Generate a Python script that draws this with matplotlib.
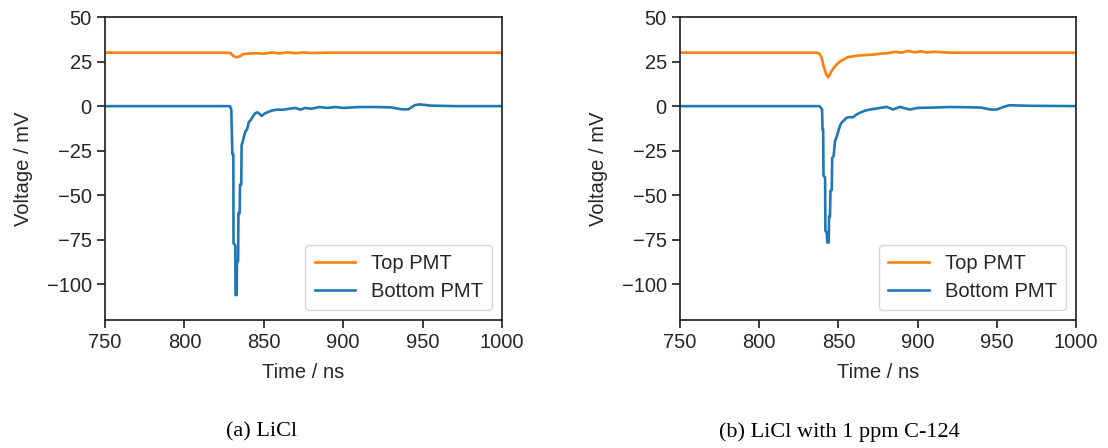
import matplotlib
matplotlib.use("Agg")
import matplotlib.pyplot as plt

plt.rcParams['font.family'] = ['Liberation Sans', 'DejaVu Sans']

# (a) LiCl
t_top_a = [750, 826, 829, 831, 833, 835, 837, 840, 845, 850, 855, 860, 865, 870,
           875, 880, 890, 900, 950, 1000]
v_top_a = [30, 30, 29.8, 28, 27.4, 28, 29.2, 29.5, 29.7, 29.4, 30.1, 29.6, 30.2,
           29.7, 30.1, 29.8, 30, 30, 30, 30]
t_bot_a = [750, 828.7, 829.5, 830.2, 830.8, 830.9, 832.0, 832.2, 832.9, 833.1,
           833.8, 834.0, 834.8, 835.0, 835.8, 836.0, 837.0, 837.5, 838.5, 839.5,
           840.5, 841.5, 843, 844.5, 846, 847.5, 848.7, 850, 852, 855, 858, 862,
           866, 870, 873, 876, 880, 885, 890, 895, 900, 910, 920, 930, 937, 941,
           945, 948, 955, 970, 1000]
v_bot_a = [0, 0, -2, -27, -27, -77, -78, -106, -106, -87, -87, -60, -60, -44, -44,
           -22, -19, -17, -14, -13, -9, -8, -6, -4, -3.5, -4.5, -5.5, -4.5, -3.5,
           -2.5, -2, -2, -1.5, -1, -2, -1, -1.5, -0.5, -1, -0.5, -1, -0.5, -0.5,
           -0.7, -1.8, -1.8, 0.5, 1, 0.3, 0, 0]

# (b) LiCl with 1 ppm C-124
t_top_b = [750, 836, 838, 839.5, 840.5, 841.5, 842.5, 843.5, 844.5, 845.5, 847,
           849, 851, 853.5, 856, 858.5, 861.5, 866, 872, 877, 882, 886, 890, 894,
           898, 902, 906, 910, 920, 950, 1000]
v_top_b = [30, 30, 29.5, 27, 23, 20, 17.5, 16.2, 17.5, 19.5, 21.4, 23.5, 25, 26.3,
           27.5, 27.8, 28.3, 28.6, 28.9, 29.5, 29.8, 30.5, 30, 31, 30.2, 30.8,
           30.1, 30.5, 30, 30, 30]
t_bot_b = [750, 838, 839, 839.7, 840, 840.4, 840.6, 841.6, 841.8, 842.7, 843,
           843.9, 844.1, 844.7, 845, 845.8, 846.1, 847, 847.9, 849, 850, 851, 852,
           853.5, 855.2, 857, 859.4, 861, 863.6, 867, 870, 875, 880.5, 884.5,
           888.9, 892, 895, 900, 910, 920, 930, 940, 946, 950, 954, 958, 970, 1000]
v_bot_b = [0, 0, -1, -2, -13, -13, -39, -40, -70, -71, -76.5, -76.5, -62, -62,
           -47.5, -47, -29, -28, -19.5, -17, -14, -11, -9.3, -8, -6.5, -6.2, -6.2,
           -5, -3.7, -2.5, -1.9, -1.2, -0.4, -1.9, -0.4, -1.2, -1.9, -1, -0.8,
           -0.5, -0.6, -0.8, -1.9, -1.9, -0.5, 0.5, 0.2, 0]

captions = ['(a) LiCl', '(b) LiCl with 1 ppm C-124']
panels = [(t_top_a, v_top_a, t_bot_a, v_bot_a), (t_top_b, v_top_b, t_bot_b, v_bot_b)]

fig = plt.figure(figsize=(11.08, 4.48), dpi=100)
rects = [[0.0948, 0.2857, 0.3583, 0.6763], [0.6137, 0.2857, 0.3574, 0.6763]]
cap_x = [0.236, 0.758]
fs = 14.5

for rect, (tt, vt, tb, vb), cap, cx in zip(rects, panels, captions, cap_x):
    ax = fig.add_axes(rect)
    ax.plot(tt, vt, color='#ff7f0e', lw=1.9, label='Top PMT')
    ax.plot(tb, vb, color='#1f77b4', lw=1.9, label='Bottom PMT')
    ax.set_xlim(750, 1000)
    ax.set_ylim(-120, 50)
    ax.set_xticks([750, 800, 850, 900, 950, 1000])
    ax.set_yticks([50, 25, 0, -25, -50, -75, -100])
    ax.set_xlabel('Time / ns', fontsize=fs, color='#262626', labelpad=8)
    ax.set_ylabel('Voltage / mV', fontsize=fs, color='#262626', labelpad=10)
    ax.tick_params(labelsize=fs, colors='#262626', width=1.25, length=6)
    for s in ax.spines.values():
        s.set_color('#262626')
        s.set_linewidth(1.25)
    leg = ax.legend(loc='lower right', fontsize=fs, handlelength=2.0,
                    borderpad=0.45, labelspacing=0.45)
    for txt in leg.get_texts():
        txt.set_color('#262626')
    fig.text(cx, 0.036, cap, ha='center', va='center', fontsize=16,
             family='Liberation Serif')

fig.savefig('out.png', dpi=100)
